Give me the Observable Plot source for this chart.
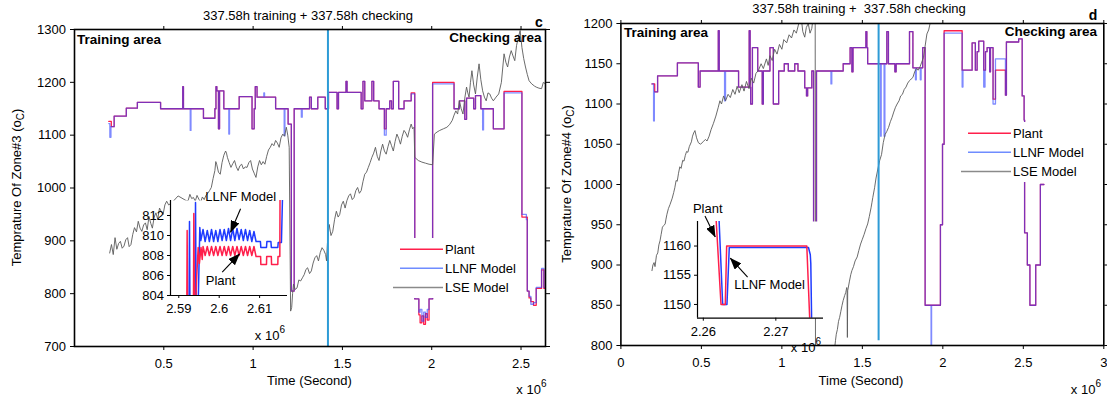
<!DOCTYPE html>
<html><head><meta charset="utf-8">
<script src="https://cdn.jsdelivr.net/npm/d3@7"></script>
<script src="https://cdn.jsdelivr.net/npm/@observablehq/plot@0.6"></script>
<style>
body{margin:0;background:#fff;}
#root{position:relative;width:1107px;height:396px;overflow:hidden;background:#fff;font-family:"Liberation Sans",Arial,Helvetica,sans-serif;}
</style></head><body><div id="root"></div>
<script>
// ---------------- data (time in units of 1e6 s, temperature in °C) ----------------
const seriesNames = ["Plant", "LLNF Model", "LSE Model"];
const leftXTicks = [0.5, 1, 1.5, 2, 2.5];
const leftYTicks = [700, 800, 900, 1000, 1100, 1200, 1300];
const rightXTicks = [0, 0.5, 1, 1.5, 2, 2.5, 3];
const rightYTicks = [800, 850, 900, 950, 1000, 1050, 1100, 1150, 1200];
const leftInsetXTicks = [2.59, 2.6, 2.61];
const leftInsetYTicks = [804, 806, 808, 810, 812];
const rightInsetXTicks = [2.26, 2.27];
const rightInsetYTicks = [1150, 1155, 1160];
const dividerLeft = [{t: 1.419, from: 700, to: 1300}];
const dividerRight = [{t: 1.601, from: 806, to: 1200}];

const leftPlant = [[0.192,1126],[0.206,1116],[0.222,1136],[0.290,1151],[0.352,1162],[0.482,1150],[0.606,1192],[0.610,1150],[0.722,1132],[0.786,1150],[0.792,1192],[0.797,1184],[0.806,1112],[0.812,1184],[0.836,1150],[0.922,1173],[0.994,1112],[1.006,1150],[1.012,1192],[1.022,1172],[1.126,1150],[1.196,1121],[1.214,805],[1.230,1150],[1.316,1172],[1.326,1150],[1.362,1172],[1.404,1150],[1.422,1181],[1.470,1150],[1.478,1181],[1.520,1202],[1.526,1181],[1.605,1150],[1.615,1202],[1.625,1165],[1.665,1202],[1.675,1165],[1.705,1150],[1.735,1112],[1.745,1150],[1.765,1165],[1.775,1150],[1.785,1202],[1.815,1150],[1.845,1165],[1.885,1180],[1.905,790],[1.928,760],[1.935,745],[1.945,758],[1.955,742],[1.965,762],[1.975,750],[1.985,790],[2.005,1200],[2.125,1150],[2.155,1165],[2.185,1130],[2.195,1170],[2.235,1150],[2.245,1175],[2.275,1150],[2.345,1112],[2.405,1183],[2.505,945],[2.535,805],[2.545,792],[2.555,785],[2.570,778],[2.585,810],[2.615,845],[2.628,810],[2.637,810]];
const leftLLNF = [[0.192,1122],[0.198,1096],[0.204,1116],[0.222,1136],[0.290,1151],[0.352,1162],[0.482,1150],[0.606,1192],[0.610,1150],[0.648,1109],[0.652,1150],[0.722,1132],[0.786,1150],[0.792,1192],[0.797,1184],[0.806,1112],[0.812,1184],[0.836,1150],[0.864,1102],[0.868,1150],[0.922,1173],[0.994,1112],[1.006,1150],[1.012,1192],[1.022,1172],[1.060,1180],[1.064,1172],[1.126,1150],[1.174,1099],[1.178,1150],[1.196,1121],[1.214,805],[1.230,1150],[1.270,1134],[1.275,1150],[1.316,1172],[1.326,1150],[1.362,1172],[1.404,1150],[1.422,1181],[1.470,1150],[1.478,1181],[1.520,1202],[1.526,1181],[1.605,1150],[1.615,1202],[1.625,1165],[1.665,1202],[1.675,1165],[1.705,1150],[1.735,1100],[1.745,1150],[1.765,1165],[1.775,1150],[1.785,1202],[1.815,1150],[1.845,1165],[1.885,1178],[1.905,790],[1.928,765],[1.935,770],[1.945,748],[1.955,765],[1.965,755],[1.975,770],[1.985,790],[2.005,1197],[2.125,1150],[2.155,1165],[2.185,1130],[2.195,1170],[2.235,1150],[2.245,1175],[2.275,1150],[2.285,1110],[2.290,1150],[2.345,1112],[2.405,1180],[2.505,950],[2.530,940],[2.535,805],[2.545,795],[2.555,780],[2.570,783],[2.585,812],[2.615,848],[2.628,812],[2.637,812]];
const leftLSE = [[0.197,877],[0.207,893],[0.217,874],[0.227,906],[0.237,884],[0.247,895],[0.257,899],[0.267,886],[0.277,890],[0.287,902],[0.297,906],[0.306,889],[0.316,893],[0.326,912],[0.336,925],[0.347,917],[0.357,937],[0.367,924],[0.377,918],[0.387,930],[0.397,934],[0.407,921],[0.417,946],[0.427,933],[0.436,924],[0.446,945],[0.456,953],[0.466,941],[0.476,962],[0.486,955],[0.496,950],[0.506,968],[0.516,975],[0.527,968],[0.545,972],[0.580,985],[0.626,976],[0.636,976],[0.646,988],[0.656,980],[0.666,982],[0.676,975],[0.686,986],[0.696,979],[0.706,973],[0.716,983],[0.726,978],[0.736,986],[0.746,990],[0.756,995],[0.766,1001],[0.776,1018],[0.786,1033],[0.791,1050],[0.796,1045],[0.806,1030],[0.816,1026],[0.826,1048],[0.836,1062],[0.846,1070],[0.851,1066],[0.856,1058],[0.866,1048],[0.876,1039],[0.886,1046],[0.896,1052],[0.906,1040],[0.916,1033],[0.926,1042],[0.936,1045],[0.946,1036],[0.956,1040],[0.966,1039],[0.976,1048],[0.986,1052],[0.996,1036],[1.006,1028],[1.016,1020],[1.026,1040],[1.036,1052],[1.046,1044],[1.056,1050],[1.066,1045],[1.076,1060],[1.086,1072],[1.096,1077],[1.106,1084],[1.116,1080],[1.126,1090],[1.136,1085],[1.146,1077],[1.156,1095],[1.166,1102],[1.176,1098],[1.186,1115],[1.194,1100],[1.202,1077],[1.210,767],[1.216,774],[1.221,800],[1.226,818],[1.236,808],[1.246,811],[1.256,826],[1.266,824],[1.276,830],[1.286,836],[1.296,846],[1.305,849],[1.316,838],[1.326,843],[1.336,858],[1.346,868],[1.356,872],[1.366,862],[1.376,878],[1.386,887],[1.396,882],[1.406,874],[1.411,862],[1.416,895],[1.426,931],[1.436,910],[1.446,918],[1.456,940],[1.466,956],[1.476,945],[1.485,950],[1.495,968],[1.505,975],[1.515,962],[1.525,976],[1.535,985],[1.545,989],[1.555,978],[1.565,982],[1.575,995],[1.585,1001],[1.595,990],[1.605,995],[1.615,1012],[1.625,1026],[1.635,1030],[1.645,1039],[1.655,1048],[1.665,1058],[1.675,1066],[1.685,1077],[1.695,1060],[1.705,1052],[1.715,1070],[1.725,1083],[1.735,1070],[1.745,1064],[1.755,1078],[1.765,1090],[1.775,1080],[1.785,1070],[1.795,1088],[1.805,1102],[1.815,1094],[1.825,1083],[1.835,1098],[1.845,1109],[1.855,1104],[1.865,1096],[1.875,1110],[1.885,1121],[1.893,1112],[1.901,1115],[1.905,1058],[1.925,1052],[1.945,1049],[1.965,1047],[1.985,1045],[2.005,1044],[2.015,1102],[2.030,1106],[2.045,1109],[2.065,1112],[2.085,1115],[2.100,1120],[2.115,1128],[2.125,1138],[2.135,1146],[2.145,1140],[2.155,1165],[2.165,1150],[2.175,1140],[2.185,1170],[2.195,1191],[2.202,1180],[2.209,1172],[2.217,1200],[2.225,1222],[2.235,1195],[2.245,1178],[2.255,1210],[2.265,1235],[2.275,1205],[2.285,1184],[2.295,1172],[2.305,1165],[2.315,1180],[2.325,1178],[2.335,1170],[2.345,1165],[2.360,1172],[2.375,1178],[2.390,1200],[2.405,1254],[2.415,1238],[2.425,1229],[2.435,1248],[2.445,1260],[2.455,1250],[2.465,1241],[2.475,1270],[2.485,1285],[2.495,1298],[2.505,1266],[2.515,1245],[2.525,1229],[2.535,1215],[2.545,1203],[2.560,1197],[2.575,1193],[2.585,1191],[2.600,1189],[2.615,1188],[2.625,1200],[2.637,1197]];

const rightPlant = [[0.193,1125],[0.210,1115],[0.228,1135],[0.351,1151],[0.481,1121],[0.492,1141],[0.605,1191],[0.611,1141],[0.731,1121],[0.797,1191],[0.803,1121],[0.806,1100],[0.817,1170],[0.850,1141],[0.878,1100],[0.885,1141],[0.926,1170],[0.947,1100],[0.980,1141],[1.015,1150],[1.040,1141],[1.080,1150],[1.100,1141],[1.142,1120],[1.153,1110],[1.160,1120],[1.186,1141],[1.197,900],[1.215,1141],[1.381,1150],[1.424,1170],[1.435,1140],[1.442,1170],[1.522,1190],[1.528,1170],[1.533,1150],[1.652,1190],[1.662,1150],[1.702,1140],[1.710,1150],[1.793,1190],[1.814,1145],[1.875,1170],[1.890,850],[1.985,950],[1.998,1050],[2.008,1191],[2.120,1142],[2.182,1176],[2.202,1142],[2.213,1165],[2.223,1178],[2.254,1142],[2.265,1165],[2.275,1170],[2.291,1140],[2.296,1170],[2.312,1106],[2.327,1142],[2.389,1111],[2.395,1177],[2.471,1181],[2.493,1110],[2.505,1080],[2.508,940],[2.525,900],[2.541,850],[2.577,900],[2.606,1000],[2.628,1000]];
const rightLLNF = [[0.193,1125],[0.203,1079],[0.208,1115],[0.228,1135],[0.351,1151],[0.481,1121],[0.492,1141],[0.605,1191],[0.611,1141],[0.644,1104],[0.650,1141],[0.731,1121],[0.797,1191],[0.803,1121],[0.806,1100],[0.817,1170],[0.850,1141],[0.878,1100],[0.885,1141],[0.926,1170],[0.947,1100],[0.980,1141],[1.015,1150],[1.040,1141],[1.080,1150],[1.100,1141],[1.142,1120],[1.153,1110],[1.160,1120],[1.186,1141],[1.197,900],[1.215,1141],[1.305,1125],[1.310,1141],[1.381,1150],[1.424,1170],[1.435,1140],[1.442,1170],[1.522,1190],[1.528,1170],[1.533,1150],[1.613,1060],[1.617,1150],[1.635,1060],[1.640,1150],[1.652,1190],[1.662,1150],[1.702,1140],[1.710,1150],[1.793,1190],[1.814,1145],[1.830,1130],[1.835,1145],[1.860,1130],[1.865,1145],[1.875,1170],[1.890,850],[1.927,780],[1.930,850],[1.985,950],[1.998,1050],[2.008,1188],[2.120,1121],[2.125,1142],[2.182,1176],[2.202,1142],[2.213,1165],[2.223,1178],[2.254,1121],[2.262,1142],[2.265,1165],[2.275,1170],[2.291,1140],[2.296,1170],[2.312,1100],[2.327,1156],[2.389,1111],[2.395,1177],[2.471,1181],[2.493,1110],[2.505,1080],[2.508,940],[2.525,900],[2.541,850],[2.577,900],[2.606,1000],[2.628,1000]];
const rightLSE = [[0.193,893],[0.199,900],[0.206,903],[0.212,898],[0.221,912],[0.229,915],[0.236,925],[0.243,930],[0.250,938],[0.258,947],[0.266,949],[0.275,951],[0.280,957],[0.286,963],[0.295,970],[0.305,975],[0.319,983],[0.328,990],[0.335,996],[0.343,1005],[0.350,1004],[0.358,1014],[0.366,1022],[0.374,1020],[0.384,1030],[0.392,1029],[0.400,1036],[0.408,1041],[0.416,1040],[0.425,1047],[0.438,1053],[0.445,1060],[0.452,1064],[0.460,1067],[0.470,1058],[0.481,1052],[0.495,1050],[0.510,1053],[0.525,1056],[0.535,1054],[0.548,1060],[0.560,1068],[0.575,1076],[0.590,1085],[0.605,1096],[0.615,1104],[0.625,1100],[0.638,1110],[0.650,1104],[0.666,1112],[0.680,1108],[0.695,1118],[0.709,1112],[0.722,1122],[0.735,1114],[0.752,1124],[0.765,1116],[0.780,1128],[0.796,1119],[0.810,1132],[0.825,1126],[0.839,1138],[0.855,1142],[0.871,1150],[0.885,1144],[0.904,1156],[0.915,1148],[0.926,1160],[0.940,1154],[0.955,1168],[0.970,1162],[0.985,1174],[1.000,1168],[1.012,1180],[1.030,1176],[1.045,1186],[1.060,1182],[1.075,1192],[1.090,1188],[1.105,1200],[1.121,1206],[1.130,1190],[1.142,1183],[1.152,1195],[1.164,1200],[1.175,1188],[1.186,1194],[1.197,1212],[1.207,1205],[1.209,760],[1.327,760],[1.327,795],[1.333,806],[1.338,814],[1.345,820],[1.352,830],[1.359,835],[1.366,842],[1.374,850],[1.381,856],[1.390,862],[1.397,866],[1.403,872],[1.405,870],[1.407,810],[1.409,868],[1.420,880],[1.428,888],[1.435,893],[1.445,898],[1.455,905],[1.468,910],[1.478,918],[1.489,926],[1.500,932],[1.511,938],[1.522,945],[1.533,951],[1.543,960],[1.554,971],[1.560,978],[1.565,984],[1.576,996],[1.585,1008],[1.598,1021],[1.608,1030],[1.619,1037],[1.630,1052],[1.641,1062],[1.652,1066],[1.663,1071],[1.674,1078],[1.684,1083],[1.695,1090],[1.706,1096],[1.716,1100],[1.728,1104],[1.738,1110],[1.749,1112],[1.760,1118],[1.771,1121],[1.782,1126],[1.793,1129],[1.803,1131],[1.814,1133],[1.825,1140],[1.836,1144],[1.847,1142],[1.858,1146],[1.869,1152],[1.880,1158],[1.890,1172],[1.901,1187],[1.912,1192],[1.923,1202],[1.945,1206],[1.970,1215]];

const leftInsetPlant = [[2.59195,800],[2.59207,810.5],[2.5922,800],[2.5936,800],[2.59372,812.2],[2.5939,800],[2.59445,806],[2.5948,808.8],[2.5951,807.2],[2.5955,808.8],[2.5958,807.6],[2.5960,808.9],[2.59652,808.0],[2.59705,808.9],[2.59757,808.0],[2.5981,808.9],[2.59862,808.0],[2.59915,808.9],[2.59967,808.0],[2.6002,808.9],[2.60072,808.0],[2.60125,808.9],[2.60177,808.0],[2.6023,808.9],[2.60282,808.0],[2.60335,808.9],[2.60387,808.0],[2.6044,808.9],[2.60492,808.0],[2.60545,808.9],[2.60597,808.0],[2.6065,808.9],[2.60702,808.0],[2.60755,808.9],[2.60807,808.0],[2.6086,808.9],[2.60912,807.9],[2.61025,807.9],[2.6103,807.1],[2.6117,807.1],[2.61175,807.9],[2.6129,807.9],[2.61295,807.1],[2.6145,807.1],[2.61455,807.9],[2.6150,807.9],[2.61505,813.6]];
const leftInsetLLNF = [[2.5925,800],[2.59265,811.4],[2.5928,800],[2.59395,800],[2.59414,813.3],[2.59435,800],[2.5948,803],[2.5952,810.8],[2.59545,809.5],[2.5960,810.6],[2.59652,809.4],[2.59705,810.5],[2.59757,809.4],[2.5981,810.6],[2.59862,809.4],[2.59915,810.5],[2.59967,809.4],[2.6002,810.6],[2.60072,809.5],[2.60125,810.6],[2.60177,809.5],[2.6023,810.7],[2.60282,809.5],[2.60335,810.7],[2.60387,809.5],[2.6044,810.7],[2.60492,809.6],[2.60545,810.6],[2.60597,809.5],[2.6065,810.6],[2.60702,809.5],[2.60755,810.5],[2.60807,809.4],[2.6086,810.4],[2.60912,809.4],[2.6102,809.4],[2.6103,808.8],[2.6117,808.8],[2.6118,809.4],[2.6128,809.4],[2.6129,808.8],[2.6145,808.8],[2.6146,809.3],[2.6154,809.3],[2.61565,813.6]];
const rightInsetPlant = [[2.2617,1166],[2.26244,1150],[2.26303,1150],[2.26322,1160],[2.27427,1160],[2.27472,1146]];
const rightInsetLLNF = [[2.26212,1166],[2.26267,1150],[2.26326,1150],[2.26358,1159.75],[2.2745,1159.75],[2.27475,1158.5],[2.27482,1157],[2.27495,1146]];

const leftInsetNotes = [{label: "LLNF Model", t: 2.60533, T: 813.83}, {label: "Plant", t: 2.60033, T: 805.43}];
const leftInsetArrows = [{t1: 2.60529, T1: 812.67, t2: 2.60281, T2: 810.33}, {t1: 2.60075, T1: 806.33, t2: 2.60504, T2: 808.17}];
const rightInsetNotes = [{label: "Plant", t: 2.26061, T: 1166.4}, {label: "LLNF Model", t: 2.26914, T: 1153.43}];
const rightInsetArrows = [{t1: 2.26023, T1: 1165.15, t2: 2.26165, T2: 1161.54}, {t1: 2.26611, T1: 1154.68, t2: 2.26372, T2: 1157.94}];

// ---------------- styling ----------------
const FONT = '"Liberation Sans", Arial, Helvetica, sans-serif';
const C_PLANT = "#ff1f4b", C_LLNF = "#2a3cff", C_LSE = "#5a5a5a", C_DIV = "#2e9bd6";
const root = document.getElementById("root");
const fx = d => d[0], fy = d => d[1];

function place(el, left, top) {
  el.style.position = "absolute";
  el.style.left = left + "px";
  el.style.top = top + "px";
  el.style.maxWidth = "none";
  root.appendChild(el);
}

function mainPanel(o) {
  return Plot.plot({
    width: o.width, height: 396,
    marginLeft: o.ml, marginRight: o.mr, marginTop: o.mt, marginBottom: o.mb,
    style: {background: "transparent", fontFamily: FONT, fontSize: "13px", color: "#000", overflow: "visible"},
    x: {domain: o.xDomain},
    y: {domain: o.yDomain},
    marks: [
      Plot.line(o.plant, {x: fx, y: fy, curve: "step-after", stroke: C_PLANT, strokeWidth: 1.3, clip: true}),
      Plot.line(o.llnf, {x: fx, y: fy, curve: "step-after", stroke: C_LLNF, strokeWidth: 1.3, strokeOpacity: 0.6, clip: true}),
      Plot.line(o.lse, {x: fx, y: fy, stroke: C_LSE, strokeWidth: 0.9, clip: true}),
      Plot.ruleX(o.divider, {x: "t", y1: "from", y2: "to", stroke: C_DIV, strokeWidth: 2}),
      Plot.frame({stroke: "#000", strokeWidth: 1.6}),
      Plot.axisX({ticks: o.xTicks, tickFormat: d => String(d), tickSize: 4, tickPadding: 8, label: null}),
      Plot.axisX({anchor: "top", ticks: o.xTicks, tickFormat: () => "", tickSize: 4, label: null}),
      Plot.axisY({ticks: o.yTicks, tickFormat: d => String(d), tickSize: 4, tickPadding: 4.5, label: null}),
      Plot.axisY({anchor: "right", ticks: o.yTicks, tickFormat: () => "", tickSize: 4, label: null})
    ]
  });
}

function insetPanel(o) {
  const svg = Plot.plot({
    width: o.ml + o.w + o.mr, height: o.mt + o.h + o.mb,
    marginLeft: o.ml, marginRight: o.mr, marginTop: o.mt, marginBottom: o.mb,
    style: {background: "transparent", fontFamily: FONT, fontSize: "13px", color: "#000", overflow: "visible"},
    x: {domain: o.xDomain},
    y: {domain: o.yDomain},
    marks: [
      Plot.frame({fill: "white", stroke: "none"}),
      Plot.line(o.llnf, {x: fx, y: fy, stroke: "#1f3bff", strokeWidth: 1.5, clip: true}),
      Plot.line(o.plant, {x: fx, y: fy, stroke: C_PLANT, strokeWidth: 1.5, clip: true}),
      Plot.ruleX(o.xDomain.slice(0, 1), {stroke: "#000", strokeWidth: 1.2}),
      Plot.ruleY(o.yDomain.slice(0, 1), {stroke: "#000", strokeWidth: 1.2}),
      Plot.axisX({ticks: o.xTicks, tickFormat: d => String(d), tickSize: 3, tickPadding: 5.5, label: null}),
      Plot.axisY({ticks: o.yTicks, tickFormat: d => String(d), tickSize: 3, tickPadding: 3.5, label: null}),
      Plot.link(o.arrows, {x1: "t1", y1: "T1", x2: "t2", y2: "T2", stroke: "#000", strokeWidth: 1.1}),
      Plot.text(o.notes, {x: "t", y: "T", text: "label", fontSize: 13, fill: "#000"})
    ]
  });
  const ns = "http://www.w3.org/2000/svg";
  const defs = document.createElementNS(ns, "defs");
  defs.innerHTML = `<marker id="${o.id}" viewBox="0 0 12 9" refX="11.5" refY="4.5" markerWidth="12" markerHeight="9" markerUnits="userSpaceOnUse" orient="auto"><path d="M0,0L12,4.5L0,9z" fill="#000"/></marker>`;
  svg.insertBefore(defs, svg.firstChild);
  svg.querySelectorAll('g[aria-label="link"] path').forEach(p => p.setAttribute("marker-end", `url(#${o.id})`));
  return svg;
}

function legendBox(rows) {
  const svg = d3.create("svg").attr("width", 110).attr("height", 60).style("overflow", "visible");
  svg.append("rect").attr("width", 110).attr("height", 60).attr("fill", "white");
  const cols = [C_PLANT, "#6f8cff", "#8a8a8a"];
  const ys = [11.3, 30.3, 49.5];
  rows.forEach((name, i) => {
    svg.append("line").attr("x1", i === 2 ? 1 : 8).attr("x2", 51).attr("y1", ys[i]).attr("y2", ys[i])
      .attr("stroke", cols[i]).attr("stroke-width", 1.6);
    svg.append("text").attr("x", 53).attr("y", ys[i]).attr("dominant-baseline", "central")
      .attr("font-family", FONT).attr("font-size", 13).attr("fill", "#000").text(name);
  });
  return svg.node();
}

// ---------------- main panels ----------------
place(mainPanel({
  width: 553, ml: 74, mr: 8, mt: 29, mb: 50,
  xDomain: [0, 2.637], yDomain: [700, 1300],
  xTicks: leftXTicks, yTicks: leftYTicks,
  plant: leftPlant, llnf: leftLLNF, lse: leftLSE, divider: dividerLeft
}), 0, 0);

place(mainPanel({
  width: 554, ml: 67.4, mr: 3.7, mt: 23, mb: 51,
  xDomain: [0, 3], yDomain: [800, 1200],
  xTicks: rightXTicks, yTicks: rightYTicks,
  plant: rightPlant, llnf: rightLLNF, lse: rightLSE, divider: dividerRight
}), 553, 0);

// ---------------- insets ----------------
place(insetPanel({
  id: "ahL", ml: 40, mr: 6, mt: 5, mb: 22, w: 117, h: 95,
  xDomain: [2.58795, 2.6169], yDomain: [804, 813.5],
  xTicks: leftInsetXTicks, yTicks: leftInsetYTicks,
  plant: leftInsetPlant, llnf: leftInsetLLNF, notes: leftInsetNotes, arrows: leftInsetArrows
}), 130, 195);

place(insetPanel({
  id: "ahR", ml: 44, mr: 6, mt: 16, mb: 22, w: 126, h: 96.7,
  xDomain: [2.2592, 2.27657], yDomain: [1147.65, 1164.2],
  xTicks: rightInsetXTicks, yTicks: rightInsetYTicks,
  plant: rightInsetPlant, llnf: rightInsetLLNF, notes: rightInsetNotes, arrows: rightInsetArrows
}), 652.7, 205);

// ---------------- legends ----------------
place(legendBox(seriesNames), 392, 238);
place(legendBox(seriesNames), 960, 122);

// ---------------- free texts ----------------
const ov = d3.create("svg").attr("width", 1107).attr("height", 396)
  .style("pointer-events", "none").attr("font-family", FONT).attr("fill", "#000");
function txt(x, y, s, opt = {}) {
  return ov.append("text").attr("x", x).attr("y", y).attr("dominant-baseline", "central")
    .attr("text-anchor", opt.anchor || "middle").attr("font-size", opt.size || 13)
    .attr("font-weight", opt.bold ? "bold" : null).style("white-space", "pre").text(s);
}
txt(308, 15, "337.58h training + 337.58h checking");
txt(859, 8.5, "337.58h training +  337.58h checking");
txt(539, 22, "c", {bold: true, size: 14});
txt(1093, 15, "d", {bold: true, size: 14});
txt(77, 39, "Training area", {bold: true, size: 13.5, anchor: "start"});
txt(541.5, 37.3, "Checking area", {bold: true, size: 13.5, anchor: "end"});
txt(624, 32.3, "Training area", {bold: true, size: 13.5, anchor: "start"});
txt(1097, 31.7, "Checking area", {bold: true, size: 13.5, anchor: "end"});
txt(309.5, 380, "Time (Second)");
txt(861, 380, "Time (Second)");

function yLabel(x, y, zone) {
  const t = ov.append("text").attr("transform", `translate(${x},${y}) rotate(-90)`)
    .attr("text-anchor", "middle").attr("dominant-baseline", "central").attr("font-size", 13);
  t.append("tspan").text(`Temprature Of Zone#${zone} (o`);
  t.append("tspan").attr("dy", 4).attr("font-size", 10).text("C");
  t.append("tspan").attr("dy", -4).text(")");
}
yLabel(16, 187.5, 3);
yLabel(566, 184, 4);

function times10(xEnd, y) {
  const t = ov.append("text").attr("x", xEnd).attr("y", y).attr("text-anchor", "end")
    .attr("dominant-baseline", "central").attr("font-size", 13);
  t.append("tspan").text("x 10");
  t.append("tspan").attr("dy", -6).attr("font-size", 10).text("6");
}
times10(546.5, 389);
times10(1101, 389);
times10(285, 335);
times10(821, 347);

place(ov.node(), 0, 0);
</script></body></html>
